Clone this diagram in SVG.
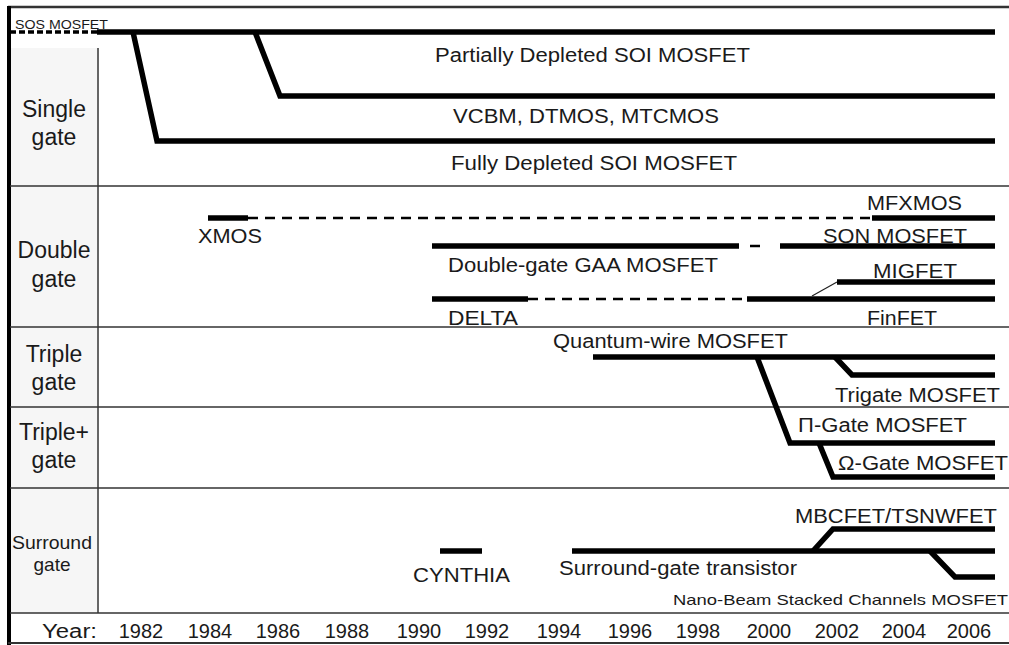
<svg xmlns="http://www.w3.org/2000/svg" width="1009" height="645" viewBox="0 0 1009 645">
<style>
  .t { font-family: "Liberation Sans", Arial, sans-serif; fill: #1a1a1a; }
  .m { font-size: 20px; }
  .lab { font-size: 23px; text-anchor: middle; }
  .yr { font-size: 20px; text-anchor: middle; }
  .grid { stroke: #333; stroke-width: 1.5; fill: none; }
  .thick { stroke: #000; stroke-width: 5.5; fill: none; stroke-linejoin: miter; }
  .dash { stroke: #000; stroke-width: 2.5; fill: none; stroke-dasharray: 10 7; }
  .thin { stroke: #222; stroke-width: 1.2; fill: none; }
</style>
<rect x="0" y="0" width="1009" height="645" fill="#fff"/>
<g id="frame">
  <rect x="11" y="48" width="86" height="565" fill="#f6f6f6"/>
  <line x1="8" y1="7" x2="1009" y2="7" stroke="#333" stroke-width="2.5"/>
  <line x1="9" y1="6" x2="9" y2="645" stroke="#000" stroke-width="4"/>
  <line x1="8" y1="643" x2="1009" y2="643" stroke="#333" stroke-width="2"/>
  <line class="grid" x1="10" y1="186" x2="1009" y2="186"/>
  <line class="grid" x1="10" y1="327" x2="1009" y2="327"/>
  <line class="grid" x1="10" y1="407" x2="1009" y2="407"/>
  <line class="grid" x1="10" y1="488" x2="1009" y2="488"/>
  <line class="grid" x1="10" y1="613" x2="1009" y2="613"/>
  <line class="grid" x1="98" y1="48" x2="98" y2="613"/>
</g>
<g id="row-labels">
  <text class="t lab" x="54" y="117">Single</text>
  <text class="t lab" x="54" y="145">gate</text>
  <text class="t lab" x="54" y="258">Double</text>
  <text class="t lab" x="54" y="287">gate</text>
  <text class="t lab" x="54" y="362">Triple</text>
  <text class="t lab" x="54" y="390">gate</text>
  <text class="t lab" x="54" y="440">Triple+</text>
  <text class="t lab" x="54" y="468">gate</text>
  <text class="t" x="52" y="549" font-size="19" text-anchor="middle" textLength="80" lengthAdjust="spacingAndGlyphs">Surround</text>
  <text class="t" x="52" y="571" font-size="19" text-anchor="middle">gate</text>
</g>
<g id="connectors">
  <line x1="10" y1="32" x2="97" y2="32" stroke="#000" stroke-width="3.5" stroke-dasharray="6 3"/>
  <line class="thick" x1="97" y1="32" x2="995" y2="32"/>
  <path class="thick" d="M133,32 L157,141 L995,141"/>
  <path class="thick" d="M255,32 L280,96 L995,96"/>
  <line class="thick" x1="208" y1="218" x2="248" y2="218"/>
  <line class="dash" x1="248" y1="218" x2="872" y2="218"/>
  <line class="thick" x1="872" y1="218" x2="995" y2="218"/>
  <line class="thick" x1="432" y1="246" x2="739" y2="246"/>
  <line class="dash" x1="750" y1="246" x2="767" y2="246"/>
  <line class="thick" x1="780" y1="246" x2="995" y2="246"/>
  <line class="thick" x1="432" y1="299" x2="528" y2="299"/>
  <line class="dash" x1="528" y1="299" x2="747" y2="299"/>
  <line class="thick" x1="747" y1="299" x2="995" y2="299"/>
  <line class="thin" x1="812" y1="296" x2="837" y2="282"/>
  <line class="thick" x1="837" y1="282" x2="995" y2="282"/>
  <line class="thick" x1="593" y1="357" x2="995" y2="357"/>
  <path class="thick" d="M835,357 L852,375 L995,375"/>
  <path class="thick" d="M757,357 L790,443 L995,443"/>
  <path class="thick" d="M819,443 L833,477 L995,477"/>
  <line class="thick" x1="440" y1="551" x2="482" y2="551"/>
  <line class="thick" x1="572" y1="551" x2="995" y2="551"/>
  <path class="thick" d="M813,551 L833,529 L995,529"/>
  <path class="thick" d="M930,551 L955,577 L995,577"/>
</g>
<g id="node-labels">
  <text class="t" x="15" y="29" font-size="12" textLength="93" lengthAdjust="spacingAndGlyphs">SOS MOSFET</text>
  <text class="t m" x="435" y="62" textLength="315" lengthAdjust="spacingAndGlyphs">Partially Depleted SOI MOSFET</text>
  <text class="t m" x="453" y="123" textLength="266" lengthAdjust="spacingAndGlyphs">VCBM, DTMOS, MTCMOS</text>
  <text class="t m" x="451" y="170" textLength="286" lengthAdjust="spacingAndGlyphs">Fully Depleted SOI MOSFET</text>
  <text class="t m" x="198" y="243" textLength="64" lengthAdjust="spacingAndGlyphs">XMOS</text>
  <text class="t m" x="867" y="210" textLength="95" lengthAdjust="spacingAndGlyphs">MFXMOS</text>
  <text class="t m" x="823" y="243" textLength="144" lengthAdjust="spacingAndGlyphs">SON MOSFET</text>
  <text class="t m" x="448" y="272" textLength="270" lengthAdjust="spacingAndGlyphs">Double-gate GAA MOSFET</text>
  <text class="t m" x="873" y="278" textLength="84" lengthAdjust="spacingAndGlyphs">MIGFET</text>
  <text class="t m" x="448" y="325" textLength="70" lengthAdjust="spacingAndGlyphs">DELTA</text>
  <text class="t m" x="867" y="325" textLength="70" lengthAdjust="spacingAndGlyphs">FinFET</text>
  <text class="t m" x="553" y="348" textLength="235" lengthAdjust="spacingAndGlyphs">Quantum-wire MOSFET</text>
  <text class="t m" x="835" y="402" textLength="165" lengthAdjust="spacingAndGlyphs">Trigate MOSFET</text>
  <text class="t m" x="798" y="432" textLength="169" lengthAdjust="spacingAndGlyphs">Π-Gate MOSFET</text>
  <text class="t m" x="838" y="470" textLength="170" lengthAdjust="spacingAndGlyphs">Ω-Gate MOSFET</text>
  <text class="t m" x="795" y="523" textLength="202" lengthAdjust="spacingAndGlyphs">MBCFET/TSNWFET</text>
  <text class="t m" x="413" y="582" textLength="97" lengthAdjust="spacingAndGlyphs">CYNTHIA</text>
  <text class="t m" x="559" y="575" textLength="238" lengthAdjust="spacingAndGlyphs">Surround-gate transistor</text>
  <text class="t" x="673" y="605" font-size="15" textLength="335" lengthAdjust="spacingAndGlyphs">Nano-Beam Stacked Channels MOSFET</text>
</g>
<g id="year-axis">
  <text class="t" x="42" y="638" font-size="20" textLength="55" lengthAdjust="spacingAndGlyphs">Year:</text>
  <text class="t yr" x="141" y="638">1982</text>
  <text class="t yr" x="210" y="638">1984</text>
  <text class="t yr" x="278" y="638">1986</text>
  <text class="t yr" x="347" y="638">1988</text>
  <text class="t yr" x="419" y="638">1990</text>
  <text class="t yr" x="487" y="638">1992</text>
  <text class="t yr" x="559" y="638">1994</text>
  <text class="t yr" x="630" y="638">1996</text>
  <text class="t yr" x="698" y="638">1998</text>
  <text class="t yr" x="769" y="638">2000</text>
  <text class="t yr" x="837" y="638">2002</text>
  <text class="t yr" x="904" y="638">2004</text>
  <text class="t yr" x="969" y="638">2006</text>
</g>
</svg>
